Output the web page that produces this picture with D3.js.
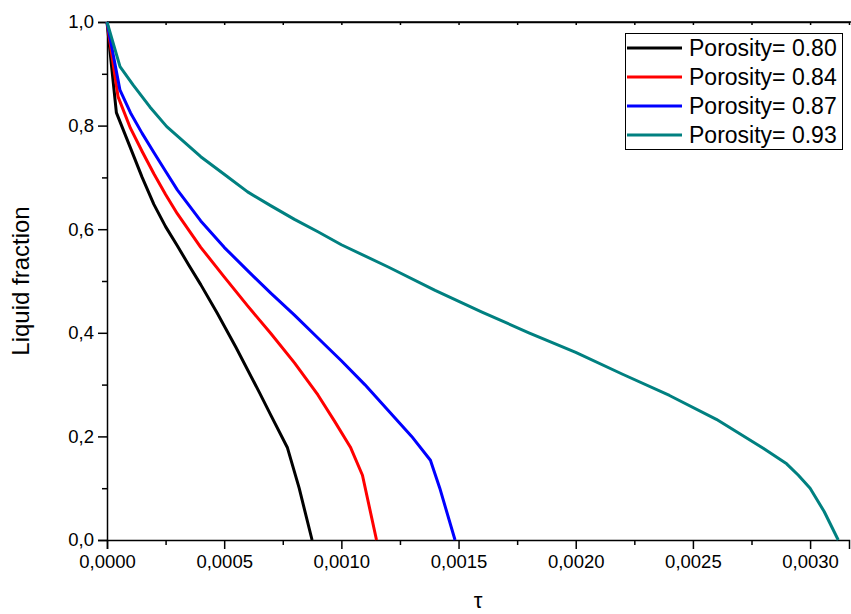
<!DOCTYPE html>
<html><head><meta charset="utf-8">
<script src="https://cdn.jsdelivr.net/npm/d3@7"></script>
<style>body{margin:0;background:#fff}svg{display:block}text{font-family:"Liberation Sans",Arial,sans-serif}</style>
</head><body>
<svg id="c" width="851" height="614"></svg>
<script>
const seriesNames = ["Porosity= 0.80","Porosity= 0.84","Porosity= 0.87","Porosity= 0.93"];
const seriesColors = ["#000000","#ff0000","#0000ff","#008080"];

const tau080 = [0,0.00004,0.0001,0.00015,0.0002,0.00025,0.0003,0.00035,0.0004,0.00047,0.00055,0.00065,0.0007,0.00077,0.00082,0.000875];
const lf080  = [1.0,0.825,0.757,0.70,0.648,0.605,0.568,0.53,0.493,0.438,0.372,0.285,0.24,0.178,0.10,0.0];

const tau084 = [0,0.000047,0.0001,0.00015,0.0002,0.00025,0.0003,0.0004,0.0005,0.0006,0.0007,0.0008,0.0009,0.00097,0.00104,0.00109,0.00115];
const lf084  = [1.0,0.856,0.795,0.75,0.707,0.667,0.63,0.565,0.508,0.452,0.398,0.342,0.28,0.23,0.178,0.125,0.0];

const tau087 = [0,0.000055,0.0001,0.00015,0.0002,0.00025,0.0003,0.0004,0.0005,0.0006,0.0007,0.0008,0.0009,0.001,0.0011,0.0012,0.0013,0.00138,0.00142,0.001485];
const lf087  = [1.0,0.869,0.825,0.785,0.748,0.712,0.676,0.616,0.565,0.52,0.476,0.434,0.39,0.346,0.30,0.25,0.20,0.154,0.10,0.0];

const tau093 = [0,0.0000555,0.000112,0.000183,0.000255,0.0004,0.0005,0.0006,0.0007,0.0008,0.0009,0.001,0.0012,0.0014,0.0016,0.0018,0.002,0.0022,0.0024,0.0026,0.0027,0.0028,0.0029,0.00295,0.003,0.00306,0.00312];
const lf093  = [1.0,0.914,0.878,0.836,0.798,0.74,0.706,0.672,0.645,0.619,0.595,0.57,0.527,0.482,0.44,0.40,0.362,0.32,0.279,0.233,0.205,0.177,0.147,0.125,0.10,0.055,0.0];

const xTicks = [0,0.0005,0.001,0.0015,0.002,0.0025,0.003];
const xMinorTicks = [0.00025,0.00075,0.00125,0.00175,0.00225,0.00275];
const yTicks = [0,0.2,0.4,0.6,0.8,1.0];
const yMinorTicks = [0.1,0.3,0.5,0.7,0.9];
const xMax = 0.003166;

const taus = [tau080,tau084,tau087,tau093];
const lfs = [lf080,lf084,lf087,lf093];

const svg = d3.select("#c");
const L = 107, R = 849, T = 22, B = 540;
const x = d3.scaleLinear().domain([0,xMax]).range([L,R]);
const y = d3.scaleLinear().domain([0,1]).range([B,T]);

const fmtX = d => d3.format(".4f")(d).replace(".",",");
const fmtY = d => d3.format(".1f")(d).replace(".",",");

// bottom axis
svg.append("g").attr("transform",`translate(0,${B})`)
  .call(d3.axisBottom(x).tickValues(xTicks).tickFormat(fmtX).tickSizeOuter(0).tickSize(9).tickPadding(6));
svg.append("g").attr("transform",`translate(0,${B})`)
  .call(d3.axisBottom(x).tickValues(xMinorTicks).tickFormat("").tickSizeOuter(0).tickSize(5))
  .select(".domain").remove();
// left axis
svg.append("g").attr("transform",`translate(${L},0)`)
  .call(d3.axisLeft(y).tickValues(yTicks).tickFormat(fmtY).tickSizeOuter(0).tickSize(9).tickPadding(4));
svg.append("g").attr("transform",`translate(${L},0)`)
  .call(d3.axisLeft(y).tickValues(yMinorTicks).tickFormat("").tickSizeOuter(0).tickSize(5))
  .select(".domain").remove();
// top axis (inward ticks)
svg.append("g").attr("transform",`translate(0,${T})`)
  .call(d3.axisBottom(x).tickValues(xTicks.concat(xMinorTicks)).tickFormat("").tickSizeOuter(0).tickSize(3));
svg.append("line").attr("x1",L).attr("x2",R+2).attr("y1",T).attr("y2",T).attr("stroke","#000").attr("stroke-width",1.5);

svg.selectAll(".domain").attr("stroke","#000").attr("stroke-width",1.5);
svg.selectAll(".tick line").attr("stroke","#000").attr("stroke-width",1.5);
svg.selectAll(".tick text").attr("font-family","Liberation Sans, Arial, sans-serif").attr("font-size",18.5).attr("fill","#000");

// lines
const line = d3.line().x(d=>x(d[0])).y(d=>y(d[1]));
taus.forEach((t,i)=>{
  const pts = t.map((v,j)=>[v,lfs[i][j]]);
  svg.append("path").datum(pts).attr("d",line).attr("fill","none")
    .attr("stroke",seriesColors[i]).attr("stroke-width",3).attr("stroke-linejoin","round");
});

// axis titles
svg.append("text").attr("transform",`translate(29,${281}) rotate(-90)`).attr("text-anchor","middle")
  .attr("font-size",24).attr("fill","#000").text("Liquid fraction");
svg.append("text").attr("x",478).attr("y",608).attr("text-anchor","middle")
  .attr("font-family","Liberation Serif, Times New Roman, serif").attr("font-size",22).attr("fill","#000").text("τ");

// legend
const lg = svg.append("g");
lg.append("rect").attr("x",625.5).attr("y",33.5).attr("width",217).attr("height",116)
  .attr("fill","#fff").attr("stroke","#000").attr("stroke-width",1);
seriesNames.forEach((n,i)=>{
  const cy = 48 + i*29;
  lg.append("line").attr("x1",627).attr("x2",682).attr("y1",cy).attr("y2",cy)
    .attr("stroke",seriesColors[i]).attr("stroke-width",3);
  lg.append("text").attr("x",689).attr("y",cy).attr("dy","0.36em").attr("font-size",23).attr("fill","#000").text(n);
});
</script>
</body></html>
